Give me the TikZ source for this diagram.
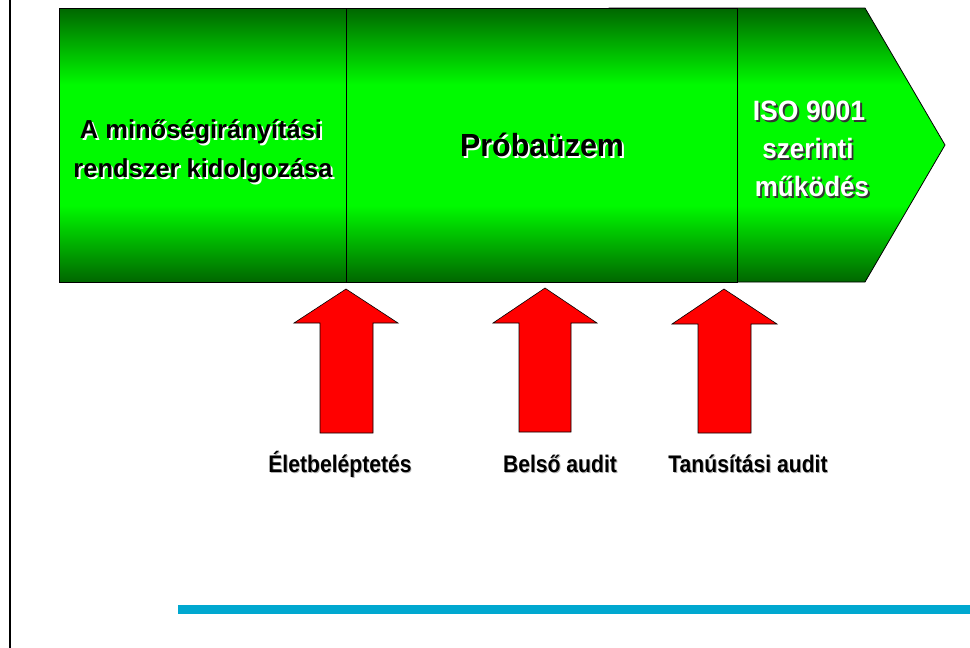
\documentclass[tikz,border=0pt]{standalone}
\usepackage{fontspec}
\setmainfont{Liberation Sans}
\definecolor{dg}{RGB}{0,102,0}
\definecolor{bg}{RGB}{0,250,0}
\definecolor{lineblue}{RGB}{0,168,208}
\definecolor{arrowred}{RGB}{255,0,0}
\pgfdeclareverticalshading{greenband}{100bp}{color(0bp)=(dg); color(25bp)=(dg); color(39bp)=(bg); color(61bp)=(bg); color(75bp)=(dg); color(100bp)=(dg)}
% text with a drop shadow: #1 horizontal scale, #2 offset, #3 shadow colour, #4 text colour, #5 text
\newcommand{\shtext}[5]{\scalebox{#1}[1]{\makebox[0pt][l]{\hspace{#2}\raisebox{-#2}{\textcolor{#3}{#5}}}\textcolor{#4}{#5}}}
\begin{document}
\begin{tikzpicture}[x=1pt,y=-1pt,
  stage/.style={shading=greenband, draw=black, line width=0.8pt},
  uparrow/.style={fill=arrowred, draw=black, line width=0.6pt, line join=miter},
  boxfont/.style={font=\fontsize{26}{30}\selectfont\bfseries},
  isofont/.style={font=\fontsize{28}{32}\selectfont\bfseries},
  bigfont/.style={font=\fontsize{32}{36}\selectfont\bfseries},
  labfont/.style={font=\fontsize{24}{28}\selectfont\bfseries},
  txt/.style={inner sep=0pt, anchor=base}]
\useasboundingbox (0,0) rectangle (970,648);
% left border line
\draw[line width=2pt] (10,0) -- (10,648);
% stages
\path[stage] (609,8) -- (865,8) -- (945,145) -- (865,282) -- (609,282) -- cycle;
\path[stage] (346,8) rectangle (737,282);
\path[stage] (59,8) rectangle (346,282);
% stage texts
\node[txt, boxfont] (t1) at (201,138) {\shtext{0.98}{2pt}{white}{black}{A minőségirányítási}};
\node[txt, boxfont] (t2) at (203,177) {\shtext{0.98}{2pt}{white}{black}{rendszer kidolgozása}};
\node[txt, bigfont] (t3) at (542,156) {\shtext{0.95}{2pt}{white}{black}{Próbaüzem}};
\node[txt, isofont] (t4) at (809,120) {\shtext{0.95}{2pt}{black!80}{white}{ISO 9001}};
\node[txt, isofont] (t5) at (808,158) {\shtext{0.93}{2pt}{black!80}{white}{szerinti}};
\node[txt, isofont] (t6) at (812,196) {\shtext{0.93}{2pt}{black!80}{white}{működés}};
% arrows
\path[uparrow] (346,289) -- (398,323) -- (373,323) -- (373,433) -- (320,433) -- (320,323) -- (294,323) -- cycle;
\path[uparrow] (545,288) -- (597,323) -- (571,323) -- (571,432) -- (519,432) -- (519,323) -- (493,323) -- cycle;
\path[uparrow] (724,289) -- (777,324) -- (751,324) -- (751,433) -- (698,433) -- (698,324) -- (672,324) -- cycle;
% labels
\node[txt, labfont] (l1) at (340,472) {\shtext{0.88}{1pt}{black!30}{black}{Életbeléptetés}};
\node[txt, labfont] (l2) at (560,472) {\shtext{0.88}{1pt}{black!30}{black}{Belső audit}};
\node[txt, labfont] (l3) at (748,472) {\shtext{0.88}{1pt}{black!30}{black}{Tanúsítási audit}};
% blue rule
\fill[lineblue] (178,605) rectangle (970,614);
\end{tikzpicture}
\end{document}
